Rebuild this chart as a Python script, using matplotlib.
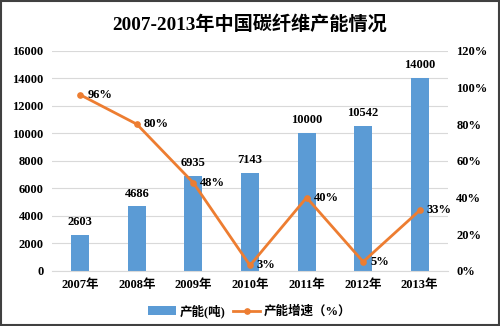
import matplotlib
matplotlib.use("Agg")
import matplotlib.pyplot as plt
from matplotlib.patches import Rectangle

plt.rcParams['font.family'] = ['Liberation Serif', 'Noto Sans CJK SC']
plt.rcParams['font.weight'] = 'bold'

years = ['2007年', '2008年', '2009年', '2010年', '2011年', '2012年', '2013年']
capacity = [2603, 4686, 6935, 7143, 10000, 10542, 14000]
growth = [96, 80, 48, 3, 40, 5, 33]
left_ticks = [0, 2000, 4000, 6000, 8000, 10000, 12000, 14000, 16000]
right_ticks = [0, 20, 40, 60, 80, 100, 120]

bar_color = '#5B9BD5'
line_color = '#ED7D31'
fs = 9

fig = plt.figure(figsize=(5.0, 3.26), dpi=100)
ax = fig.add_axes([0.104, 0.169, 0.792, 0.675])
x = list(range(len(years)))
ax.bar(x, capacity, width=0.32, color=bar_color, zorder=2, label='产能(吨)')
ax.set_ylim(0, 16000)
ax.set_xlim(-0.5, len(years) - 0.5)
ax.set_yticks(left_ticks)
ax.set_yticklabels([str(t) for t in left_ticks], fontsize=fs, fontweight='bold')
ax.set_xticks(x)
ax.set_xticklabels(years, fontsize=fs, fontweight='bold')
ax.grid(axis='y', color='#D9D9D9', linewidth=0.8, zorder=0)
for s in ax.spines.values():
    s.set_visible(False)
ax.spines['bottom'].set_visible(True)
ax.spines['bottom'].set_color('#D9D9D9')
ax.tick_params(length=0, pad=6)
for xi, v in zip(x, capacity):
    ax.annotate(str(v), (xi, v), xytext=(0, 5), textcoords='offset points',
                ha='center', va='bottom', fontsize=fs, fontweight='bold')

ax2 = ax.twinx()
ax2.plot(x, growth, color=line_color, linewidth=2, marker='o', markersize=3.8,
         zorder=3, label='产能增速（%）')
ax2.set_ylim(0, 120)
ax2.set_yticks(right_ticks)
ax2.set_yticklabels([f'{t}%' for t in right_ticks], fontsize=fs, fontweight='bold')
for s in ax2.spines.values():
    s.set_visible(False)
ax2.tick_params(length=0, pad=6)
for xi, v in zip(x, growth):
    ax2.annotate(f'{v}%', (xi, v), xytext=(5, 0), textcoords='offset points',
                 ha='left', va='center', fontsize=fs, fontweight='bold')

fig.suptitle('2007-2013年中国碳纤维产能情况', x=0.5, y=0.955, fontsize=13.8,
             fontweight='bold')

h1, l1 = ax.get_legend_handles_labels()
h2, l2 = ax2.get_legend_handles_labels()
fig.legend(h1 + h2, l1 + l2, loc='center', bbox_to_anchor=(0.5, 0.045), ncol=2,
           frameon=False, fontsize=fs, handlelength=2.2, columnspacing=0.6,
           handletextpad=0.3)

fig.patches.append(Rectangle((0.002, 0.003), 0.996, 0.994, transform=fig.transFigure,
                             fill=False, edgecolor='#404040', linewidth=1.5))
fig.savefig('out.png', dpi=100)
